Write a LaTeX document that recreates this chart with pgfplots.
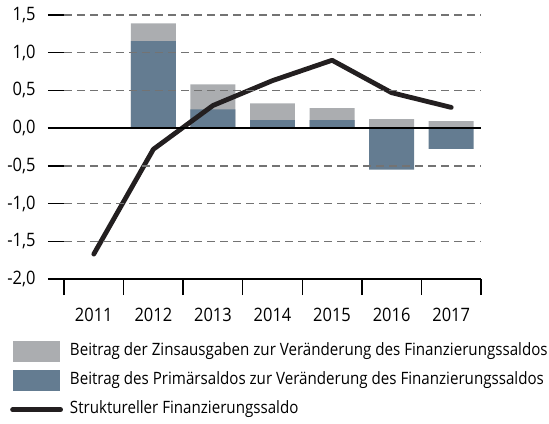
\documentclass[border=0pt]{standalone}
\usepackage{pgfplots}
\usepackage{pgfplotstable}
\pgfplotsset{compat=1.18}
\usepackage{fontspec}
\setmainfont{Open Sans}[FakeStretch=0.89]
\definecolor{zins}{RGB}{171,173,176}
\definecolor{prim}{RGB}{100,124,145}
\definecolor{linie}{RGB}{35,31,32}
\definecolor{gitter}{RGB}{115,115,115}

% contributions to the change of the budget balance
\pgfplotstableread{
x prim zins
1 1.155 0.235
2 0.25 0.33
3 0.105 0.225
4 0.105 0.16
5 -0.55 0.12
6 -0.275 0.093
}\beitraege

\pgfplotstableread{
x saldo
0 -1.67
1 -0.28
2 0.30
3 0.63
4 0.90
5 0.47
6 0.275
}\saldo

\begin{document}
\begin{tikzpicture}
\useasboundingbox (-64bp,-145bp) rectangle (485bp,279bp);
\begin{axis}[
  at={(0,0)}, anchor=south west,
  scale only axis,
  width=417bp, height=264bp,
  xmin=-0.5, xmax=6.5,
  ymin=-2, ymax=1.5,
  axis x line*=bottom, axis y line*=left,
  axis line style={-, black, line width=1.3bp},
  y axis line style={draw=none},
  axis on top,
  tick align=outside,
  major tick length=16bp,
  tick style={black, line width=1.3bp},
  xtick={-0.5,0.5,...,6.5},
  x tick label as interval,
  xticklabels={2011,2012,2013,2014,2015,2016,2017},
  ytick={-2,-1.5,...,1.5},
  yticklabels={{-2,0},{-1,5},{-1,0},{-0,5},{0,0},{0,5},{1,0},{1,5}},
  ymajorgrids,
  grid style={gitter, dash pattern=on 8bp off 5bp, line width=1.4bp},
  extra y ticks={0},
  extra y tick labels={},
  extra y tick style={grid=major, grid style={solid, black, line width=1.6bp}},
  tick label style={font=\fontsize{18.5bp}{21bp}\selectfont},
  xticklabel style={yshift=-10bp},
  yticklabel style={xshift=-9bp},
  legend style={at={(axis description cs:0,0)}, anchor=north west,
    xshift=-54bp, yshift=-62bp, draw=none, fill=none, inner sep=0pt,
    font=\fontsize{17bp}{20bp}\selectfont, row sep=8bp,
    nodes={inner sep=0pt, text height=12bp, text depth=4bp},
    /tikz/every odd column/.append style={column sep=7bp}},
  legend cell align=left,
]
\addplot[ybar, bar width=0.755, bar shift=0, fill=zins, draw=none,
  legend image code/.code={\fill[zins] (0bp,-10.5bp) rectangle (47bp,10.5bp);}]
  table[x=x, y expr={max(\thisrow{prim},0)+\thisrow{zins}}] {\beitraege};
\addlegendentry{Beitrag der Zinsausgaben zur Veränderung des Finanzierungssaldos}
\addplot[ybar, bar width=0.755, bar shift=0, fill=prim, draw=none,
  legend image code/.code={\fill[prim] (0bp,-10.5bp) rectangle (47bp,10.5bp);}]
  table[x=x, y=prim] {\beitraege};
\addlegendentry{Beitrag des Primärsaldos zur Veränderung des Finanzierungssaldos}
\addplot[linie, line width=4.8bp, line join=round, line cap=round,
  legend image code/.code={\draw[linie, line width=4.8bp, line cap=round] (0bp,0bp) -- (48bp,0bp); \path[draw=none, fill=none] (0bp,-10.5bp) rectangle (47bp,10.5bp);}]
  table[x=x, y=saldo] {\saldo};
\addlegendentry{Struktureller Finanzierungssaldo}
\end{axis}
\end{tikzpicture}
\end{document}
